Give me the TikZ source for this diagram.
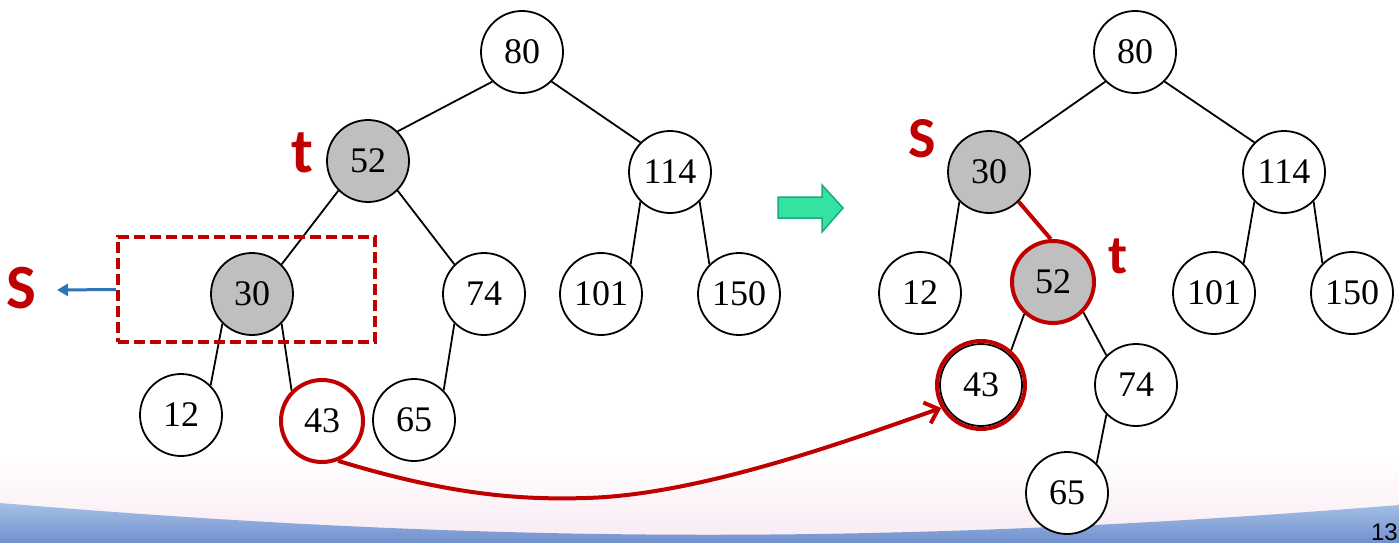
\documentclass[tikz,border=0pt]{standalone}
\usepackage{fontspec}
\setmainfont{Liberation Serif}
\newfontfamily\labfont{Carlito}
\newfontfamily\pgnfont{Liberation Sans}
\usetikzlibrary{arrows.meta}
\definecolor{dred}{RGB}{192,0,0}
\definecolor{ngray}{RGB}{191,191,191}
\definecolor{sblue}{RGB}{46,117,182}
\definecolor{gfill}{RGB}{52,226,162}
\definecolor{gdraw}{RGB}{26,170,120}
\definecolor{bandtop}{RGB}{165,192,230}
\definecolor{bandbot}{RGB}{110,142,204}
\definecolor{pinkf}{RGB}{249,234,243}
\begin{document}
\begin{tikzpicture}[x=1pt,y=-1pt,
  tnode/.style={circle,draw=black,line width=1.8pt,fill=white,minimum size=82pt,inner sep=0pt,font=\fontsize{36}{42}\selectfont},
  gnode/.style={tnode,fill=ngray},
  rnode/.style={draw=dred,line width=4pt},
  edge/.style={line width=1.8pt,draw=black},
  lab/.style={text=dred,font=\labfont\bfseries\fontsize{63}{70}\selectfont,inner sep=0pt,anchor=base west},
  redarrow/.style={draw=dred,line width=4pt,-{Straight Barb[length=12pt,width=22pt]}}]
\useasboundingbox (0,0) rectangle (1399,543);
% background
\shade[top color=white,bottom color=pinkf] (0,455) rectangle (1399,543);
\shade[top color=bandtop,bottom color=bandbot] (0,503) .. controls (500,545) and (900,545) .. (1399,505) -- (1399,543) -- (0,543) -- cycle;
\node[anchor=base east,inner sep=0pt,font=\pgnfont\fontsize{24}{28}\selectfont] (pg) at (1398,540) {13};

% left tree
\node[tnode] (80L) at (522,52) {80};
\node[gnode] (52L) at (368,161) {52};
\node[tnode] (114L) at (670,172) {114};
\node[gnode] (30L) at (252,294) {30};
\node[tnode] (74L) at (484,294) {74};
\node[tnode] (101L) at (601,294) {101};
\node[tnode] (150L) at (739,294) {150};
\node[tnode] (12L) at (181,415) {12};
\node[tnode,rnode] (43L) at (322,421) {43};
\node[tnode] (65L) at (414,420) {65};
\draw[edge] (80L.-135) -- (52L.45);
\draw[edge] (80L.-45) -- (114L.135);
\draw[edge] (52L.-135) -- (30L.45);
\draw[edge] (52L.-45) -- (74L.135);
\draw[edge] (114L.-135) -- (101L.45);
\draw[edge] (114L.-45) -- (150L.135);
\draw[edge] (30L.-135) -- (12L.45);
\draw[edge] (30L.-45) -- (43L.135);
\draw[edge] (74L.-135) -- (65L.45);

\node[draw=dred,line width=4pt,dash pattern=on 11pt off 5pt,minimum width=257pt,minimum height=105pt,inner sep=0pt] (box) at (246.5,289.5) {};
\coordinate (sarrow) at (57,290);
\draw[sblue,line width=3pt,-{Triangle[length=11pt,width=12pt]}] (box.west) -- (sarrow);
\node[lab] (sL) at (6,308) {S};
\node[lab] (tL) at (291,172) {t};

% green arrow
\draw[gdraw,fill=gfill,line width=1.5pt,line join=miter] (778,197) -- (822,197) -- (822,185) -- (843,208) -- (822,232) -- (822,218) -- (778,218) -- cycle;

% right tree
\node[tnode] (80R) at (1135,52) {80};
\node[gnode] (30R) at (989,172) {30};
\node[tnode] (114R) at (1284,172) {114};
\node[tnode] (12R) at (920,293) {12};
\node[gnode,rnode] (52R) at (1053,282) {52};
\node[tnode] (101R) at (1214,293) {101};
\node[tnode] (150R) at (1352,293) {150};
\node[tnode] (43R) at (981,385) {43};
\node[circle,rnode,minimum size=88pt,inner sep=0pt] (43Rring) at (981,385) {};
\node[tnode] (74R) at (1136,385) {74};
\node[tnode] (65R) at (1067,493) {65};
\draw[edge] (80R.-135) -- (30R.45);
\draw[edge] (80R.-45) -- (114R.135);
\draw[edge] (30R.-135) -- (12R.45);
\draw[draw=dred,line width=4pt] (30R.-45) -- (52R.93);
\draw[edge] (114R.-135) -- (101R.45);
\draw[edge] (114R.-45) -- (150R.135);
\draw[edge] (52R.-132) -- (43Rring.49);
\draw[edge] (52R.-45) -- (74R.135);
\draw[edge] (74R.-135) -- (65R.45);
\node[lab,font=\labfont\bfseries\fontsize{58}{64}\selectfont] (sR) at (908,157) {S};
\node[lab,font=\labfont\bfseries\fontsize{55}{62}\selectfont] (tR) at (1108,273) {t};

% moving arrow
\draw[redarrow] (43L.-68) .. controls (450,495) and (520,500) .. (586,498) .. controls (700,495) and (850,440) .. (43Rring.-150);
\end{tikzpicture}
\end{document}
